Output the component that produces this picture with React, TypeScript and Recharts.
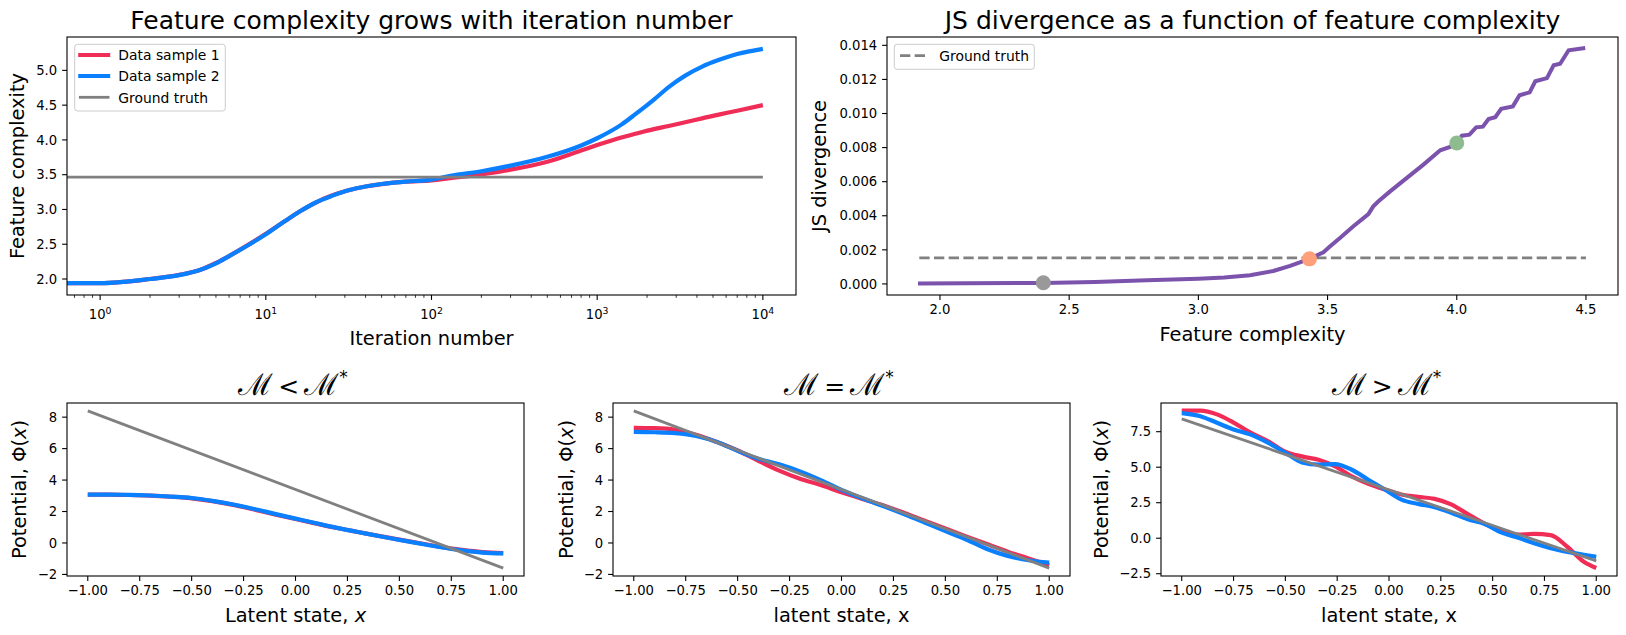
import React from 'react';
import { LineChart, Line, XAxis, YAxis, ReferenceDot } from 'recharts';

const FONT = '"DejaVu Sans", sans-serif';
const RED = '#EF2D56';
const BLUE = '#0A80FF';
const GRAY = '#808080';
const PURPLE = '#7B53AC';

// ---- feature complexity vs iteration number (log x) ----
const iterations = [0.631, 1, 2, 3, 4, 5, 6, 8, 10, 13, 16, 20, 25, 32, 40, 50, 70, 100, 130, 200, 300, 500, 800, 1000, 1400, 1700, 2200, 2700, 3400, 4300, 5500, 7000, 10000];
const complexitySample1 = [1.94, 1.94, 2.0, 2.06, 2.13, 2.23, 2.33, 2.505, 2.65, 2.83, 2.97, 3.1, 3.2, 3.28, 3.33, 3.365, 3.4, 3.418, 3.45, 3.505, 3.572, 3.686, 3.848, 3.926, 4.035, 4.088, 4.155, 4.2, 4.255, 4.31, 4.368, 4.42, 4.5];
const complexitySample2 = [1.94, 1.94, 2.0, 2.055, 2.13, 2.225, 2.33, 2.5, 2.645, 2.83, 2.97, 3.1, 3.195, 3.28, 3.33, 3.366, 3.4, 3.43, 3.485, 3.55, 3.63, 3.757, 3.92, 4.024, 4.22, 4.37, 4.58, 4.76, 4.925, 5.055, 5.155, 5.235, 5.31];
const truthIterations = [0.631, 10000];
const truthComplexity = [3.464, 3.464];
const iterationTicks = [0.7, 0.8, 0.9, 1, 2, 3, 4, 5, 6, 7, 8, 9, 10, 20, 30, 40, 50, 60, 70, 80, 90, 100, 200, 300, 400, 500, 600, 700, 800, 900, 1000, 2000, 3000, 4000, 5000, 6000, 7000, 8000, 9000, 10000];
const complexityTicks = [2.0, 2.5, 3.0, 3.5, 4.0, 4.5, 5.0];

// ---- JS divergence vs feature complexity ----
const complexityGrid = [1.915, 2.1, 2.4, 2.6, 2.8, 3.0, 3.1, 3.2, 3.29, 3.355, 3.43, 3.484, 3.51, 3.548, 3.6, 3.658, 3.677, 3.697, 3.742, 3.807, 3.871, 3.936, 3.974, 4.0, 4.02, 4.049, 4.075, 4.101, 4.123, 4.149, 4.172, 4.217, 4.243, 4.282, 4.304, 4.349, 4.375, 4.4, 4.433, 4.497];
const jsDivergence = [0.00002, 0.00004, 0.00006, 0.00012, 0.00022, 0.00031, 0.00038, 0.00051, 0.00076, 0.00106, 0.00147, 0.00186, 0.00221, 0.0027, 0.00338, 0.0041, 0.00455, 0.00485, 0.00543, 0.00622, 0.007, 0.00784, 0.00804, 0.00831, 0.0087, 0.00876, 0.00919, 0.00923, 0.00968, 0.00978, 0.01028, 0.01042, 0.01107, 0.01124, 0.01189, 0.01208, 0.01283, 0.01292, 0.01371, 0.01384];
const truthLevelX = [1.92, 4.5];
const truthLevelJs = [0.00153, 0.00153];
const markerComplexity = [2.4, 3.43, 4.0];
const markerJs = [0.00007, 0.00147, 0.00827];
const markerColors = ['#999999', '#FFA07A', '#8FBC8F'];
const jsTicks = [0, 0.002, 0.004, 0.006, 0.008, 0.01, 0.012, 0.014];
const complexityXTicks = [2.0, 2.5, 3.0, 3.5, 4.0, 4.5];

// ---- learned potentials ----
const latentX = [-1, -0.9, -0.8, -0.7, -0.6, -0.5, -0.4, -0.3, -0.2, -0.1, 0, 0.1, 0.2, 0.3, 0.4, 0.5, 0.6, 0.7, 0.8, 0.9, 1];
const underPhi1 = [3.08, 3.07, 3.05, 3.01, 2.94, 2.84, 2.66, 2.42, 2.13, 1.82, 1.52, 1.23, 0.95, 0.7, 0.45, 0.21, -0.02, -0.25, -0.44, -0.58, -0.64];
const underPhi2 = [3.08, 3.07, 3.06, 3.02, 2.95, 2.86, 2.68, 2.45, 2.165, 1.85, 1.55, 1.25, 0.96, 0.7, 0.44, 0.2, -0.04, -0.27, -0.47, -0.61, -0.66];
const matchPhi1 = [7.32, 7.3, 7.2, 6.88, 6.42, 5.88, 5.22, 4.6, 4.08, 3.68, 3.22, 2.8, 2.4, 1.92, 1.41, 0.92, 0.42, -0.07, -0.55, -0.98, -1.42];
const matchPhi2 = [7.06, 7.04, 6.98, 6.8, 6.42, 5.86, 5.35, 5.0, 4.55, 4.0, 3.38, 2.84, 2.35, 1.84, 1.3, 0.75, 0.22, -0.38, -0.82, -1.1, -1.25];
const overLatentX = [-1.0, -0.91, -0.83, -0.75, -0.67, -0.58, -0.5, -0.42, -0.34, -0.26, -0.18, -0.1, -0.02, 0.06, 0.14, 0.22, 0.3, 0.38, 0.46, 0.54, 0.62, 0.7, 0.78, 0.86, 0.94, 1.0];
const overPhi1 = [8.98, 8.98, 8.72, 8.14, 7.45, 6.8, 6.1, 5.76, 5.52, 5.05, 4.35, 3.83, 3.43, 3.08, 2.91, 2.77, 2.38, 1.7, 1.03, 0.52, 0.26, 0.3, 0.22, -0.6, -1.66, -2.1];
const overPhi2 = [8.81, 8.59, 8.13, 7.66, 7.31, 6.69, 6.02, 5.34, 5.18, 5.22, 4.82, 4.12, 3.43, 2.72, 2.42, 2.19, 1.8, 1.34, 1.02, 0.41, 0.05, -0.36, -0.7, -0.96, -1.17, -1.31];
const truePhiX = [-1, 1];
const truePhi = [8.4, -1.6];
const latentTicks = [-1, -0.75, -0.5, -0.25, 0, 0.25, 0.5, 0.75, 1];
const phiTicks = [-2, 0, 2, 4, 6, 8];
const phiTicksWide = [-2.5, 0, 2.5, 5, 7.5];

// plot-area rectangles of the five axes
const BOX = {
  tl: { left: 67, top: 37, width: 729, height: 258 },
  tr: { left: 887, top: 37, width: 731, height: 258 },
  bl: { left: 67, top: 403, width: 457, height: 173 },
  bm: { left: 613, top: 403, width: 457, height: 173 },
  br: { left: 1161, top: 403, width: 456, height: 173 },
};
const PAD = { left: 60, right: 10, top: 10, bottom: 40 };

const pts = (xs: number[], ys: number[]) => xs.map((x, i) => ({ x, y: ys[i] }));

const fmt = (digits: number) => (v: number) => {
  const s = Math.abs(v).toFixed(digits);
  return v < 0 && Number(s) !== 0 ? '\u2212' + s : s;
};

const tickStyle = { fontSize: 13.2, fill: '#000', fontFamily: FONT };
const tickLineStyle = { stroke: '#000', strokeWidth: 1.1 };

const axisCommon = {
  type: 'number' as const,
  allowDataOverflow: true,
  axisLine: false,
  tickLine: tickLineStyle,
  tick: tickStyle,
  tickSize: 4.9,
  tickMargin: 4.9,
  interval: 0 as const,
};

// log axis tick: major decades get a 10^n label, the rest are short minor marks
const LogTick = (props: any) => {
  const { x, y, payload } = props;
  const exp = Math.log10(payload.value);
  const major = Math.abs(exp - Math.round(exp)) < 1e-6;
  return (
    <g>
      <line x1={x} x2={x} y1={y} y2={y + (major ? 4.9 : 2.8)} stroke="#000" strokeWidth={major ? 1.1 : 0.8} />
      {major && (
        <text x={x} y={y + 24} textAnchor="middle" fontSize={13.2} fontFamily={FONT} fill="#000">
          10
          <tspan dy={-5.5} fontSize={9.3}>{Math.round(exp)}</tspan>
        </text>
      )}
    </g>
  );
};

function Panel({ box, children }: { box: { left: number; top: number; width: number; height: number }; children: React.ReactNode }) {
  return (
    <div style={{ position: 'absolute', left: box.left - PAD.left, top: box.top - PAD.top }}>
      <LineChart
        width={box.width + PAD.left + PAD.right}
        height={box.height + PAD.top + PAD.bottom}
        margin={{ top: PAD.top, right: PAD.right, left: 0, bottom: 0 }}
      >
        {children}
      </LineChart>
    </div>
  );
}

function PotentialPanel({ box, xs, phi1, phi2, yDomain, yTicks, yDigits }: any) {
  return (
    <Panel box={box}>
      <XAxis {...axisCommon} dataKey="x" domain={[-1.1, 1.1]} ticks={latentTicks} tickFormatter={fmt(2)} height={PAD.bottom} />
      <YAxis {...axisCommon} dataKey="y" domain={yDomain} ticks={yTicks} tickFormatter={fmt(yDigits)} width={PAD.left} />
      <Line data={pts(xs, phi1)} dataKey="y" type="monotone" stroke={RED} strokeWidth={4.2} dot={false} activeDot={false} isAnimationActive={false} />
      <Line data={pts(xs, phi2)} dataKey="y" type="monotone" stroke={BLUE} strokeWidth={4.2} dot={false} activeDot={false} isAnimationActive={false} />
      <Line data={pts(truePhiX, truePhi)} dataKey="y" type="linear" stroke={GRAY} strokeWidth={2.8} dot={false} activeDot={false} isAnimationActive={false} />
    </Panel>
  );
}

const Frame = ({ box }: any) => (
  <rect x={box.left} y={box.top} width={box.width} height={box.height} fill="none" stroke="#000" strokeWidth={1.1} />
);

const VLabel = ({ x, y, children }: any) => (
  <text transform={`translate(${x},${y}) rotate(-90)`} textAnchor="middle" fontSize={19.4}>
    {children}
  </text>
);

// calligraphic model-size comparison used as the potential panel titles
const MTitle = ({ x, rel }: { x: number; rel: string }) => (
  <text x={x} y={395} textAnchor="middle" fontSize={30} fontFamily='"DejaVu Serif", serif'>
    {'\u2133'}
    <tspan fontSize={25} fontFamily={FONT}>{`\u2009${rel}\u2009`}</tspan>
    {'\u2133'}
    <tspan dy={-12} fontSize={17} fontFamily={FONT}>*</tspan>
  </text>
);

const potentialLabel = (
  <>
    Potential, Φ(<tspan fontStyle="italic">x</tspan>)
  </>
);

export default function App() {
  return (
    <div style={{ position: 'absolute', left: 0, top: 0, width: 1626, height: 635, background: '#fff', overflow: 'hidden' }}>
      <Panel box={BOX.tl}>
        <XAxis
          {...axisCommon}
          dataKey="x"
          scale="log"
          domain={[0.631, 15849]}
          ticks={iterationTicks}
          tick={<LogTick />}
          tickLine={false}
          tickSize={0}
          tickMargin={0}
          height={PAD.bottom}
        />
        <YAxis {...axisCommon} dataKey="y" domain={[1.77, 5.48]} ticks={complexityTicks} tickFormatter={fmt(1)} width={PAD.left} />
        <Line data={pts(iterations, complexitySample1)} dataKey="y" type="monotone" stroke={RED} strokeWidth={4.2} dot={false} activeDot={false} isAnimationActive={false} />
        <Line data={pts(iterations, complexitySample2)} dataKey="y" type="monotone" stroke={BLUE} strokeWidth={4.2} dot={false} activeDot={false} isAnimationActive={false} />
        <Line data={pts(truthIterations, truthComplexity)} dataKey="y" type="linear" stroke={GRAY} strokeWidth={2.8} dot={false} activeDot={false} isAnimationActive={false} />
      </Panel>

      <Panel box={BOX.tr}>
        <XAxis {...axisCommon} dataKey="x" domain={[1.795, 4.624]} ticks={complexityXTicks} tickFormatter={fmt(1)} height={PAD.bottom} />
        <YAxis {...axisCommon} dataKey="y" domain={[-0.00065, 0.01449]} ticks={jsTicks} tickFormatter={fmt(3)} width={PAD.left} />
        <Line data={pts(truthLevelX, truthLevelJs)} dataKey="y" type="linear" stroke={GRAY} strokeWidth={2.8} strokeDasharray="10.3 4.4" dot={false} activeDot={false} isAnimationActive={false} />
        <Line data={pts(complexityGrid, jsDivergence)} dataKey="y" type="linear" stroke={PURPLE} strokeWidth={4} dot={false} activeDot={false} isAnimationActive={false} />
        {markerComplexity.map((c, i) => (
          <ReferenceDot key={i} x={c} y={markerJs[i]} r={7.5} fill={markerColors[i]} stroke="none" />
        ))}
      </Panel>

      <PotentialPanel box={BOX.bl} xs={latentX} phi1={underPhi1} phi2={underPhi2} yDomain={[-2.1, 8.9]} yTicks={phiTicks} yDigits={0} />
      <PotentialPanel box={BOX.bm} xs={latentX} phi1={matchPhi1} phi2={matchPhi2} yDomain={[-2.1, 8.9]} yTicks={phiTicks} yDigits={0} />
      <PotentialPanel box={BOX.br} xs={overLatentX} phi1={overPhi1} phi2={overPhi2} yDomain={[-2.66, 9.52]} yTicks={phiTicksWide} yDigits={1} />

      <svg width={1626} height={635} style={{ position: 'absolute', left: 0, top: 0, pointerEvents: 'none' }} fontFamily={FONT} fill="#000">
        {Object.values(BOX).map((b, i) => (
          <Frame key={i} box={b} />
        ))}

        <text x={431.5} y={28.5} textAnchor="middle" fontSize={25}>Feature complexity grows with iteration number</text>
        <text x={1252.5} y={28.5} textAnchor="middle" fontSize={25}>JS divergence as a function of feature complexity</text>
        <MTitle x={293} rel="<" />
        <MTitle x={839} rel="=" />
        <MTitle x={1386.5} rel=">" />

        <text x={431.5} y={344.5} textAnchor="middle" fontSize={19.4}>Iteration number</text>
        <text x={1252.5} y={341} textAnchor="middle" fontSize={19.4}>Feature complexity</text>
        <text x={295.5} y={621.5} textAnchor="middle" fontSize={19.4}>
          Latent state, <tspan fontStyle="italic">x</tspan>
        </text>
        <text x={841.5} y={621.5} textAnchor="middle" fontSize={19.4}>latent state, x</text>
        <text x={1389} y={621.5} textAnchor="middle" fontSize={19.4}>latent state, x</text>

        <VLabel x={24} y={166}>Feature complexity</VLabel>
        <VLabel x={826} y={166}>JS divergence</VLabel>
        <VLabel x={26} y={489.5}>{potentialLabel}</VLabel>
        <VLabel x={572.5} y={489.5}>{potentialLabel}</VLabel>
        <VLabel x={1107.5} y={489.5}>{potentialLabel}</VLabel>

        {/* legend, left panel */}
        <rect x={74.7} y={44.3} width={150.6} height={66.7} rx={2.8} fill="#fff" fillOpacity={0.8} stroke="#cccccc" strokeWidth={1} />
        <line x1={80.3} x2={108.1} y1={55} y2={55} stroke={RED} strokeWidth={4.2} strokeLinecap="square" />
        <line x1={80.3} x2={108.1} y1={76} y2={76} stroke={BLUE} strokeWidth={4.2} strokeLinecap="square" />
        <line x1={80.3} x2={108.1} y1={97.3} y2={97.3} stroke={GRAY} strokeWidth={2.8} strokeLinecap="square" />
        <text x={118.3} y={60.3} fontSize={13.9}>Data sample 1</text>
        <text x={118.3} y={81.3} fontSize={13.9}>Data sample 2</text>
        <text x={118.3} y={102.6} fontSize={13.9}>Ground truth</text>

        {/* legend, right panel */}
        <rect x={894.3} y={44.3} width={140} height={25} rx={2.8} fill="#fff" fillOpacity={0.8} stroke="#cccccc" strokeWidth={1} />
        <line x1={900} x2={927.8} y1={55.7} y2={55.7} stroke={GRAY} strokeWidth={2.8} strokeDasharray="10.3 4.4" />
        <text x={939.3} y={61} fontSize={13.9}>Ground truth</text>
      </svg>
    </div>
  );
}
